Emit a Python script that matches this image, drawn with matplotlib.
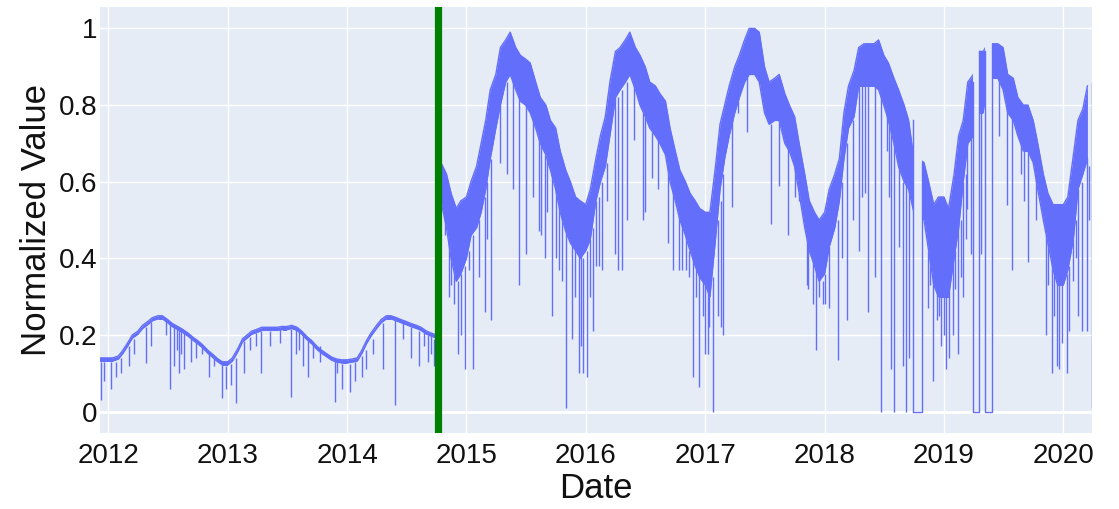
import numpy as np
import pandas as pd
import matplotlib
matplotlib.use("Agg")
import matplotlib.pyplot as plt
import matplotlib.dates as mdates
from matplotlib.path import Path

plt.rcParams['font.family'] = ['Liberation Sans', 'DejaVu Sans']

# ---- data: band top / band bottom on the 1st and 15th of each month ----
upper_2011 = [0.14, 0.14]
lower_2011 = [0.132, 0.132]
upper_2012 = [0.14, 0.14, 0.145, 0.16, 0.18, 0.20, 0.21, 0.225, 0.235, 0.245, 0.25, 0.25,
              0.24, 0.23, 0.222, 0.215, 0.205, 0.195, 0.185, 0.175, 0.16, 0.15, 0.138, 0.13]
lower_2012 = [0.132, 0.132, 0.137, 0.152, 0.172, 0.192, 0.202, 0.217, 0.227, 0.237, 0.242, 0.242,
              0.232, 0.222, 0.214, 0.207, 0.197, 0.187, 0.177, 0.167, 0.152, 0.142, 0.13, 0.122]
upper_2013 = [0.13, 0.14, 0.165, 0.19, 0.20, 0.21, 0.215, 0.22, 0.22, 0.22, 0.22, 0.222,
              0.222, 0.225, 0.22, 0.21, 0.195, 0.185, 0.17, 0.16, 0.15, 0.142, 0.137, 0.135]
lower_2013 = [0.122, 0.132, 0.157, 0.182, 0.192, 0.202, 0.207, 0.212, 0.212, 0.212, 0.212, 0.214,
              0.214, 0.217, 0.212, 0.202, 0.187, 0.177, 0.162, 0.152, 0.142, 0.134, 0.129, 0.127]
upper_2014 = [0.135, 0.137, 0.14, 0.16, 0.185, 0.205, 0.225, 0.24, 0.25, 0.25, 0.245, 0.24,
              0.235, 0.23, 0.225, 0.22, 0.21, 0.205, 0.20, 0.65, 0.62, 0.57, 0.53, 0.55]
lower_2014 = [0.127, 0.129, 0.132, 0.152, 0.177, 0.197, 0.217, 0.232, 0.242, 0.242, 0.237, 0.232,
              0.227, 0.222, 0.217, 0.212, 0.202, 0.197, 0.192, 0.55, 0.48, 0.40, 0.34, 0.36]
upper_2015 = [0.56, 0.60, 0.64, 0.70, 0.76, 0.84, 0.88, 0.95, 0.97, 0.99, 0.95, 0.93,
              0.92, 0.91, 0.86, 0.82, 0.80, 0.76, 0.74, 0.68, 0.63, 0.60, 0.56, 0.55]
lower_2015 = [0.40, 0.46, 0.48, 0.52, 0.58, 0.66, 0.74, 0.80, 0.86, 0.88, 0.84, 0.81,
              0.80, 0.78, 0.74, 0.70, 0.67, 0.63, 0.58, 0.52, 0.47, 0.44, 0.42, 0.40]
upper_2016 = [0.54, 0.58, 0.66, 0.72, 0.77, 0.86, 0.94, 0.95, 0.97, 0.99, 0.95, 0.93,
              0.90, 0.86, 0.85, 0.83, 0.81, 0.74, 0.68, 0.63, 0.60, 0.57, 0.55, 0.53]
lower_2016 = [0.42, 0.45, 0.55, 0.60, 0.64, 0.72, 0.82, 0.84, 0.86, 0.88, 0.84, 0.80,
              0.77, 0.74, 0.72, 0.70, 0.67, 0.60, 0.55, 0.50, 0.46, 0.42, 0.38, 0.35]
upper_2017 = [0.52, 0.52, 0.64, 0.75, 0.80, 0.85, 0.90, 0.93, 0.97, 1.00, 1.00, 0.99,
              0.90, 0.86, 0.87, 0.88, 0.83, 0.80, 0.77, 0.70, 0.62, 0.55, 0.52, 0.50]
lower_2017 = [0.33, 0.30, 0.45, 0.58, 0.66, 0.72, 0.78, 0.82, 0.86, 0.88, 0.88, 0.86,
              0.78, 0.75, 0.76, 0.76, 0.70, 0.68, 0.64, 0.57, 0.48, 0.42, 0.38, 0.34]
upper_2018 = [0.52, 0.58, 0.62, 0.66, 0.78, 0.85, 0.89, 0.95, 0.96, 0.96, 0.96, 0.97,
              0.93, 0.91, 0.87, 0.84, 0.80, 0.76, 0.66, 0.66, 0.65, 0.60, 0.54, 0.56]
lower_2018 = [0.36, 0.43, 0.48, 0.55, 0.66, 0.74, 0.77, 0.85, 0.85, 0.85, 0.85, 0.84,
              0.80, 0.76, 0.70, 0.64, 0.60, 0.58, 0.52, 0.52, 0.50, 0.42, 0.33, 0.30]
upper_2019 = [0.56, 0.53, 0.62, 0.72, 0.76, 0.86, 0.88, 0.94, 0.94, 0.96, 0.96, 0.96,
              0.95, 0.88, 0.87, 0.82, 0.80, 0.80, 0.76, 0.70, 0.62, 0.57, 0.54, 0.54]
lower_2019 = [0.30, 0.30, 0.40, 0.48, 0.60, 0.70, 0.72, 0.78, 0.78, 0.87, 0.87, 0.87,
              0.84, 0.78, 0.76, 0.72, 0.68, 0.68, 0.65, 0.58, 0.50, 0.44, 0.37, 0.33]
upper_2020 = [0.54, 0.56, 0.67, 0.76, 0.79, 0.85]
lower_2020 = [0.33, 0.37, 0.45, 0.58, 0.62, 0.66]

# downward spikes: date, lowest value, value where the spike leaves the band
spike_dates = [
    "2011-12-09", "2011-12-20", "2012-01-10", "2012-01-25", "2012-02-10", "2012-03-05",
    "2012-04-25", "2012-05-10", "2012-07-08", "2012-07-20", "2012-08-05", "2012-08-20",
    "2012-09-10", "2012-09-25", "2012-11-05", "2012-12-13", "2012-12-25", "2013-01-10",
    "2013-01-27", "2013-02-20", "2013-04-12", "2013-05-10", "2013-07-13", "2013-08-20",
    "2013-09-02", "2013-09-20", "2013-11-24", "2013-12-15", "2014-01-10", "2014-01-25",
    "2014-02-15", "2014-04-20", "2014-05-27", "2014-07-15", "2014-08-10", "2014-09-05",
    "2014-09-25", "2014-10-05",
    "2012-03-20", "2012-06-25", "2012-07-30", "2012-08-12", "2012-10-15", "2012-11-20",
    "2013-03-10", "2013-03-28", "2013-06-10", "2013-07-28", "2013-08-08", "2013-10-10",
    "2013-12-02", "2014-02-28", "2014-03-20", "2014-06-20", "2014-08-25", "2014-09-15",
    "2014-11-08", "2014-12-05", "2014-12-28", "2015-01-22", "2015-02-28", "2015-03-18",
    "2015-04-15", "2015-05-23", "2015-06-10", "2015-07-01", "2015-07-23", "2015-08-10",
    "2015-08-29", "2015-09-20", "2015-10-12", "2015-11-02", "2015-11-21", "2015-12-24",
    "2016-01-05", "2016-01-22", "2016-02-10", "2016-03-05", "2016-04-01", "2016-04-20",
    "2016-05-05", "2016-05-27", "2016-07-01", "2016-07-23", "2016-09-08", "2016-09-24",
    "2016-10-12", "2016-11-03", "2016-11-25", "2016-12-13", "2017-01-01", "2017-01-23",
    "2017-02-10", "2017-02-25", "2017-03-25", "2017-04-12", "2017-05-10", "2017-07-20",
    "2017-08-15", "2017-09-12", "2017-10-15", "2017-11-07", "2017-12-05", "2017-12-28",
    "2018-01-15", "2018-02-10", "2018-02-24", "2018-03-10", "2018-03-28", "2018-04-15",
    "2018-05-15", "2018-06-05", "2018-06-21", "2018-07-23", "2018-07-31", "2018-08-15",
    "2018-08-29", "2018-09-06", "2018-09-16", "2018-11-13", "2018-11-28", "2018-12-10",
    "2018-12-24", "2019-01-08", "2019-01-16", "2019-01-30", "2019-02-14", "2019-03-01",
    "2019-03-14", "2019-03-24", "2019-04-25", "2019-06-19", "2019-07-13", "2019-07-27",
    "2019-08-25", "2019-09-16", "2019-10-25", "2019-11-10", "2019-11-28", "2019-12-20",
    "2020-01-11", "2020-01-30", "2020-02-15", "2020-03-14", "2020-03-29",
    "2014-10-28", "2014-11-15", "2014-11-25", "2014-12-15", "2015-01-08", "2015-02-10",
    "2015-03-05", "2015-05-05", "2015-08-18", "2015-09-05", "2015-10-01", "2015-10-20",
    "2015-11-28", "2015-12-11", "2015-12-18", "2016-01-15", "2016-02-01", "2016-02-20",
    "2016-04-08", "2016-06-25", "2016-08-10", "2016-10-23", "2016-11-13", "2016-12-03",
    "2016-12-24", "2017-01-08", "2017-01-13", "2017-02-18", "2017-10-01", "2017-11-12",
    "2017-11-25", "2017-12-16", "2018-01-01", "2018-04-25", "2018-05-05", "2018-07-10",
    "2018-07-16", "2018-11-20", "2018-12-17", "2019-01-01", "2019-02-05", "2019-02-22",
    "2019-03-09", "2019-09-02", "2019-10-10", "2019-11-16", "2019-12-05", "2019-12-12",
    "2019-12-28", "2020-01-20", "2020-02-08", "2020-02-26", "2020-03-20",
]
spike_values = [
    0.03, 0.08, 0.06, 0.09, 0.10, 0.12,
    0.127, 0.17, 0.06, 0.12, 0.10, 0.11,
    0.13, 0.14, 0.09, 0.035, 0.06, 0.07,
    0.022, 0.10, 0.10, 0.17, 0.038, 0.12,
    0.09, 0.14, 0.025, 0.06, 0.05, 0.08,
    0.09, 0.11, 0.017, 0.14, 0.12, 0.13,
    0.12, 0.09,
    0.15, 0.20, 0.16, 0.15, 0.15, 0.12,
    0.16, 0.17, 0.18, 0.15, 0.16, 0.13,
    0.10, 0.11, 0.15, 0.19, 0.17, 0.15,
    0.30, 0.15, 0.11, 0.11, 0.26, 0.24,
    0.65, 0.58, 0.33, 0.41, 0.56, 0.47,
    0.40, 0.25, 0.37, 0.01, 0.19, 0.10,
    0.09, 0.21, 0.38, 0.55, 0.41, 0.37,
    0.50, 0.71, 0.52, 0.61, 0.44, 0.37,
    0.37, 0.37, 0.09, 0.065, 0.15, 0.0,
    0.25, 0.20, 0.535, 0.78, 0.73, 0.49,
    0.59, 0.46, 0.55, 0.33, 0.16, 0.28,
    0.27, 0.135, 0.40, 0.24, 0.50, 0.42,
    0.26, 0.35, 0.0, 0.11, 0.0, 0.43,
    0.12, 0.0, 0.14, 0.27, 0.08, 0.24,
    0.17, 0.11, 0.14, 0.20, 0.15, 0.30,
    0.53, 0.41, 0.41, 0.72, 0.54, 0.37,
    0.62, 0.39, 0.55, 0.20, 0.10, 0.11,
    0.10, 0.34, 0.25, 0.21, 0.01,
    0.46, 0.33, 0.28, 0.20, 0.37, 0.35,
    0.45, 0.62, 0.46, 0.52, 0.40, 0.34,
    0.30, 0.10, 0.17, 0.30, 0.38, 0.37,
    0.37, 0.50, 0.58, 0.37, 0.35, 0.30,
    0.25, 0.15, 0.22, 0.22, 0.56, 0.32,
    0.28, 0.30, 0.28, 0.56, 0.57, 0.68,
    0.56, 0.33, 0.25, 0.20, 0.32, 0.35,
    0.45, 0.55, 0.50, 0.33, 0.25, 0.12,
    0.18, 0.21, 0.40, 0.21, 0.50,
]
spike_tops = [
    0.13, 0.13, 0.13, 0.13, 0.14, 0.17,
    0.22, 0.235, 0.23, 0.22, 0.215, 0.21,
    0.195, 0.185, 0.15, 0.125, 0.12, 0.125,
    0.14, 0.185, 0.21, 0.21, 0.215, 0.20,
    0.19, 0.175, 0.135, 0.125, 0.125, 0.13,
    0.145, 0.23, 0.24, 0.22, 0.21, 0.20,
    0.19, 0.19,
    0.19, 0.24, 0.22, 0.21, 0.17, 0.145,
    0.195, 0.205, 0.215, 0.215, 0.21, 0.17,
    0.13, 0.16, 0.19, 0.235, 0.21, 0.20,
    0.48, 0.34, 0.38, 0.46, 0.56, 0.66,
    0.80, 0.87, 0.82, 0.80, 0.76, 0.72,
    0.67, 0.62, 0.54, 0.47, 0.44, 0.40,
    0.42, 0.48, 0.56, 0.65, 0.82, 0.84,
    0.86, 0.86, 0.77, 0.73, 0.64, 0.58,
    0.51, 0.46, 0.40, 0.36, 0.33, 0.35,
    0.50, 0.62, 0.76, 0.82, 0.88, 0.75,
    0.76, 0.69, 0.57, 0.45, 0.38, 0.34,
    0.43, 0.50, 0.60, 0.70, 0.76, 0.85,
    0.85, 0.85, 0.84, 0.76, 0.72, 0.64,
    0.60, 0.60, 0.58, 0.42, 0.35, 0.33,
    0.30, 0.30, 0.32, 0.40, 0.50, 0.60,
    0.70, 0.72, 0.78, 0.87, 0.80, 0.77,
    0.70, 0.68, 0.55, 0.46, 0.40, 0.33,
    0.36, 0.45, 0.58, 0.66, 0.86,
    0.55, 0.42, 0.37, 0.36, 0.42, 0.50,
    0.60, 0.86, 0.70, 0.66, 0.58, 0.52,
    0.44, 0.42, 0.41, 0.45, 0.55, 0.60,
    0.82, 0.78, 0.71, 0.52, 0.42, 0.38,
    0.35, 0.32, 0.31, 0.55, 0.64, 0.44,
    0.40, 0.36, 0.36, 0.85, 0.85, 0.80,
    0.78, 0.42, 0.32, 0.30, 0.42, 0.50,
    0.62, 0.68, 0.62, 0.44, 0.37, 0.36,
    0.33, 0.38, 0.50, 0.60, 0.64,
]

# stretches where the series sits at zero, with the band level just before / after
zero_starts = ["2018-09-28", "2019-03-30", "2019-05-06"]
zero_ends = ["2018-10-26", "2019-04-17", "2019-05-27"]
zero_level_before = [0.76, 0.86, 0.94]
zero_level_after = [0.65, 0.94, 0.96]

split_date = "2014-10-06"
x_start, x_end = "2011-12-07", "2020-03-29"
year_ticks = ["2012", "2013", "2014", "2015", "2016", "2017", "2018", "2019", "2020"]
y_ticks = [0, 0.2, 0.4, 0.6, 0.8, 1.0]
y_tick_labels = ["0", "0.2", "0.4", "0.6", "0.8", "1"]

line_color = "#636EFA"

# ---- assemble ----
knots = pd.date_range("2011-12-01", "2020-03-15", freq="SMS")
upper = np.concatenate([upper_2011, upper_2012, upper_2013, upper_2014, upper_2015,
                        upper_2016, upper_2017, upper_2018, upper_2019, upper_2020])
lower = np.concatenate([lower_2011, lower_2012, lower_2013, lower_2014, lower_2015,
                        lower_2016, lower_2017, lower_2018, lower_2019, lower_2020])
assert len(knots) == len(upper) == len(lower)
assert len(spike_dates) == len(spike_values) == len(spike_tops)

# ---- figure ----
fig = plt.figure(figsize=(11.19, 5.09), dpi=100)
ax = fig.add_axes([100 / 1119, 1 - 433 / 509, 992 / 1119, 426 / 509])
ax.set_facecolor("#E5ECF6")
for sp in ax.spines.values():
    sp.set_visible(False)

ax.set_xlim(pd.Timestamp(x_start), pd.Timestamp(x_end))
ax.set_ylim(-0.056, 1.056)

# clip region: the whole span except the zero stretches
edges = [pd.Timestamp(x_start)]
for s, e in zip(zero_starts, zero_ends):
    edges += [pd.Timestamp(s), pd.Timestamp(e)]
edges.append(pd.Timestamp(x_end) + pd.Timedelta(days=2))
rects = []
for a, b in zip(edges[0::2], edges[1::2]):
    xa, xb = mdates.date2num(a), mdates.date2num(b)
    rects.append(Path([(xa, -1), (xb, -1), (xb, 2), (xa, 2), (xa, -1)], closed=True))
clip = Path.make_compound_path(*rects)

band = ax.fill_between(knots, lower, upper, color=line_color, lw=0, zorder=2)
band.set_clip_path(clip, ax.transData)
l1, = ax.plot(knots, upper, color=line_color, lw=1.0, zorder=2)
l2, = ax.plot(knots, lower, color=line_color, lw=1.0, zorder=2)
l1.set_clip_path(clip, ax.transData)
l2.set_clip_path(clip, ax.transData)

ax.vlines(pd.to_datetime(spike_dates), spike_values, spike_tops,
          color=line_color, lw=1.0, zorder=2)

for s, e, b, a in zip(zero_starts, zero_ends, zero_level_before, zero_level_after):
    ax.plot([pd.Timestamp(s), pd.Timestamp(s), pd.Timestamp(e), pd.Timestamp(e)],
            [b, 0, 0, a], color=line_color, lw=1.0, zorder=2)

ax.axvline(pd.Timestamp(split_date), color="#008000", lw=5.2, zorder=3)

ax.set_xticks([pd.Timestamp(y + "-01-01") for y in year_ticks])
ax.set_xticklabels(year_ticks)
ax.set_yticks(y_ticks)
ax.set_yticklabels(y_tick_labels)
ax.grid(True, color="white", lw=1.0, zorder=0)
ax.axhline(0, color="white", lw=2.0, zorder=1)
ax.set_axisbelow(True)
ax.tick_params(axis="both", length=0, labelsize=20, colors="#111111")
ax.tick_params(axis="x", pad=7)
ax.tick_params(axis="y", pad=2)

ax.set_xlabel("Date", fontsize=25, color="#111111", labelpad=2)
ax.set_ylabel("Normalized Value", fontsize=25, color="#111111", labelpad=4)

fig.savefig("out.png", dpi=100, facecolor="white")
